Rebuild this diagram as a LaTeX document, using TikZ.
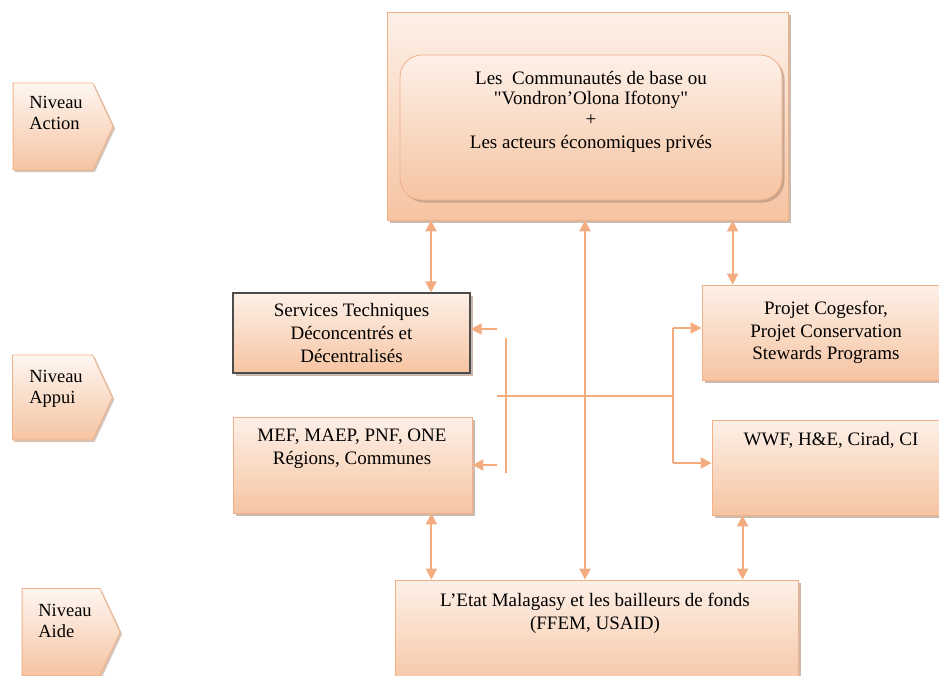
\documentclass[tikz,border=0pt]{standalone}
\usepackage{fontspec}
\setmainfont{Liberation Serif}[Ligatures=TeXOff]
\usetikzlibrary{arrows.meta, shapes.symbols, shadows}
\definecolor{peach}{RGB}{246,196,162}
\definecolor{peachline}{RGB}{241,176,136}
\definecolor{peacharrow}{RGB}{243,172,128}
\definecolor{shade}{RGB}{170,140,120}

\begin{document}
\begin{tikzpicture}
        [x=1pt, y=-1pt,
        box/.style={rectangle, draw=peachline, thick, top color=peach!25, bottom color=peach, inner sep=0pt,
          drop shadow={shadow xshift=2.5pt, shadow yshift=-2.5pt, fill=shade, opacity=0.6}},
        level/.style={signal, signal to=east, signal pointer angle=130, draw=peachline, thick,
          top color=peach!15, bottom color=peach, inner sep=0pt, minimum width=100pt, minimum height=87pt,
          drop shadow={shadow xshift=2pt, shadow yshift=-2pt, fill=shade, opacity=0.5}},
        txt/.style={align=center, font=\fontsize{19}{23}\selectfont},
        lvltxt/.style={align=left, font=\fontsize{18.5}{21.5}\selectfont},
        wire/.style={peacharrow, line width=2pt},
        tip/.style={>={Triangle[length=11pt,width=11pt]}},
        arr/.style={wire, tip, <->},
        oneway/.style={wire, tip, ->}]
        \useasboundingbox (0,0) rectangle (939,675);
        \node (action) at (53,126.5) [level] {};
        \node (actiontxt) at (56,113) [lvltxt] {Niveau\\Action};
        \node (appui) at (52.5,397.5) [level, minimum height=85pt] {};
        \node (appuitxt) at (56,389) [lvltxt] {Niveau\\Appui};
        \node (aide) at (61,632) [level, minimum width=98pt] {};
        \node (aidetxt) at (65,621) [lvltxt] {Niveau\\Aide};
        \node (top) at (587.5,116) [box, minimum width=401pt, minimum height=208pt] {};
        \node (base) at (591,127.5) [box, rounded corners=22pt, minimum width=382pt, minimum height=145pt] {};
        \node (basetxt) at (591,112) [txt, font=\fontsize{19}{20.5}\selectfont]
           {Les\ \ Communautés de base ou\\"Vondron’Olona Ifotony"\\+\\[3pt]Les acteurs économiques privés};
        \node (svc) at (351.5,333) [box, draw=black!70, line width=1.2pt, minimum width=237pt, minimum height=80pt, txt]
           {Services Techniques\\Déconcentrés et\\Décentralisés};
        \node (mef) at (352.5,465) [box, minimum width=239pt, minimum height=96pt] {};
        \node (meftxt) at (352,449) [txt] {MEF, MAEP, PNF, ONE\\Régions, Communes};
        \node (proj) at (826,332.5) [box, minimum width=248pt, minimum height=95pt, txt, font=\fontsize{19}{22.5}\selectfont]
           {Projet Cogesfor,\\Projet Conservation\\Stewards Programs};
        \node (wwf) at (832,467.5) [box, minimum width=240pt, minimum height=95pt] {};
        \node (wwftxt) at (831,440) [txt] {WWF, H\&E, Cirad, CI};
        \node (bot) at (596.5,635) [box, minimum width=403pt, minimum height=110pt] {};
        \node (bottxt) at (595,613.5) [txt] {L’Etat Malagasy et les bailleurs de fonds\\(FFEM, USAID)};
        \coordinate (hubL) at (497,396);
        \coordinate (hubR) at (673,396);
        \coordinate (railT) at (506,338);
        \coordinate (railB) at (506,473);
        \draw[arr] ([xshift=79.5pt]svc.north) -- ([xshift=79.5pt]svc.north |- top.south);
        \draw[arr] ([xshift=-2.5pt]top.south) -- ([xshift=-2.5pt]top.south |- bot.north);
        \draw[arr] ([xshift=31pt]proj.north west) -- ([xshift=31pt]proj.north west |- top.south);
        \draw[arr] ([xshift=-41pt]mef.south east) -- ([xshift=-41pt]mef.south east |- bot.north);
        \draw[arr] ([xshift=31pt]wwf.south west) -- ([xshift=31pt]wwf.south west |- bot.north);
        \draw[wire] (hubL) -- (hubR);
        \draw[wire] (railT) -- (railB);
        \draw[wire] ([yshift=4.5pt]proj.west -| hubR) -- ([yshift=4.5pt]wwf.west -| hubR);
        \draw[oneway] ([yshift=4.5pt]proj.west -| hubR) -- ([yshift=4.5pt]proj.west);
        \draw[oneway] ([yshift=4.5pt]wwf.west -| hubR) -- ([yshift=4.5pt]wwf.west);
        \draw[oneway] ([yshift=4pt]svc.east -| hubL) -- ([yshift=4pt]svc.east);
        \draw[oneway] (mef.east -| hubL) -- (mef.east);
     \end{tikzpicture}
\end{document}
